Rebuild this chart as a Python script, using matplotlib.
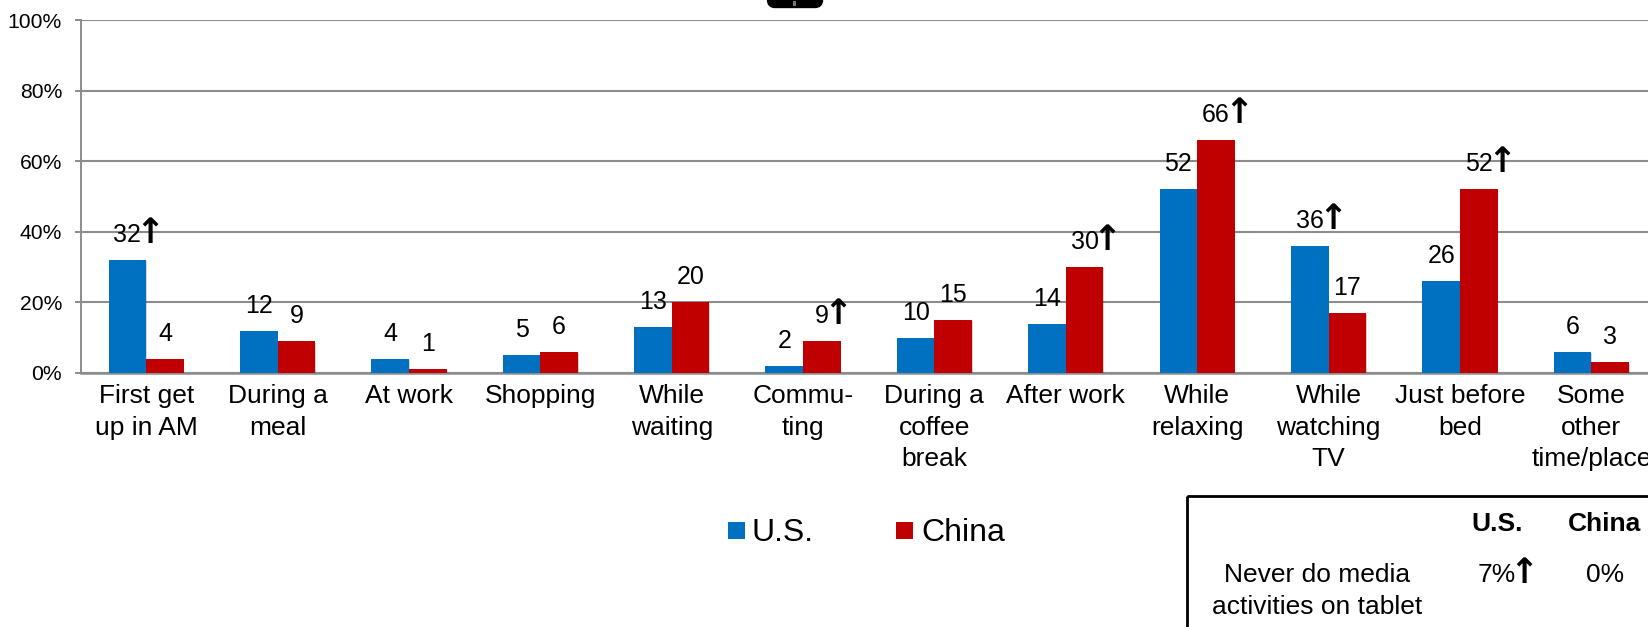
import matplotlib
matplotlib.use('Agg')
import numpy as np
import matplotlib.pyplot as plt
import matplotlib.patheffects as pe
from matplotlib.patches import FancyBboxPatch, Rectangle

plt.rcParams['font.family'] = ['Liberation Sans', 'DejaVu Sans']

categories = ['First get\nup in AM', 'During a\nmeal', 'At work', 'Shopping', 'While\nwaiting',
              'Commu-\nting', 'During a\ncoffee\nbreak', 'After work', 'While\nrelaxing',
              'While\nwatching\nTV', 'Just before\nbed', 'Some\nother\ntime/place']
us = [32, 12, 4, 5, 13, 2, 10, 14, 52, 36, 26, 6]
china = [4, 9, 1, 6, 20, 9, 15, 30, 66, 17, 52, 3]
us_up = [1, 0, 0, 0, 0, 0, 0, 0, 0, 1, 0, 0]  # significantly higher than the other country
china_up = [0, 0, 0, 0, 0, 1, 0, 1, 1, 0, 1, 0]
yticks = [0, 20, 40, 60, 80, 100]

BLUE = '#0070C0'
RED = '#C00000'
GRID = '#8C8C8C'
W, H = 1648, 627

fig = plt.figure(figsize=(W / 100, H / 100), dpi=100)
# the last category runs slightly past the right edge of the figure
ax = fig.add_axes([80.5 / W, 1 - 373 / H, (1657 - 80.5) / W, 353 / H])

x = np.arange(len(categories))
bw = 0.286
shadow = [pe.SimplePatchShadow(offset=(0.5, -1), alpha=0.18), pe.Normal()]
bars_us = ax.bar(x - bw / 2, us, bw, color=BLUE, zorder=3, path_effects=shadow)
bars_cn = ax.bar(x + bw / 2, china, bw, color=RED, zorder=3, path_effects=shadow)

ax.set_xlim(-0.5, len(categories) - 0.5)
ax.set_ylim(0, 100)
ax.set_yticks(yticks)
ax.set_yticklabels(['%d%%' % t for t in yticks], fontsize=15.2)
ax.set_xticks(x)
ax.set_xticklabels(categories, fontsize=19, linespacing=1.4)
ax.tick_params(axis='x', length=0, pad=8)
ax.tick_params(axis='y', length=4.3, width=1.4, color=GRID, pad=9)
ax.grid(axis='y', color=GRID, linewidth=1.5, zorder=1)
ax.set_axisbelow(True)
for side in ['top', 'right']:
    ax.spines[side].set_visible(False)
ax.spines['left'].set_color(GRID)
ax.spines['left'].set_linewidth(1.4)
ax.spines['bottom'].set_color(GRID)
ax.spines['bottom'].set_linewidth(1.8)

# value labels, with an up arrow beside the flagged ones
for bars, vals, ups in [(bars_us, us, us_up), (bars_cn, china, china_up)]:
    for b, v, up in zip(bars, vals, ups):
        cx = b.get_x() + b.get_width() / 2
        ax.annotate(str(v), (cx, v), xytext=(0, 25), textcoords='offset pixels',
                    ha='center', va='center', fontsize=18, zorder=5, clip_on=False)
        if up:
            ax.annotate('\u2191', (cx, v), xytext=(6.6 * len(str(v)) + 9.5, 27), textcoords='offset pixels',
                        ha='center', va='center', fontsize=25, fontweight='bold', zorder=5,
                        family='DejaVu Sans')

# overlay in pixel coordinates for legend, inset box and the clipped device at the top
ov = fig.add_axes([0, 0, 1, 1], zorder=10)
ov.set_xlim(0, W)
ov.set_ylim(H, 0)
ov.axis('off')
ov.patch.set_alpha(0)

ov.add_patch(Rectangle((728, 522), 17, 17, color=BLUE, lw=0))
ov.text(752, 533, 'U.S.', fontsize=23, va='center', ha='left')
ov.add_patch(Rectangle((896, 522), 17, 17, color=RED, lw=0))
ov.text(921, 533, 'China', fontsize=23, va='center', ha='left')

ov.add_patch(Rectangle((1187, 496), 600, 300, fill=False, edgecolor='black', linewidth=2.0))
ov.text(1497, 524, 'U.S.', fontsize=19, fontweight='bold', ha='center', va='center')
ov.text(1605, 524, 'China', fontsize=19, fontweight='bold', ha='center', va='center')
ov.text(1317, 575, 'Never do media', fontsize=19, ha='center', va='center')
ov.text(1317, 607, 'activities on tablet', fontsize=19, ha='center', va='center')
ov.text(1497, 575, '7%', fontsize=19, ha='center', va='center')
ov.text(1524, 573, '\u2191', fontsize=25, fontweight='bold', ha='center', va='center', family='DejaVu Sans')
ov.text(1605, 575, '0%', fontsize=19, ha='center', va='center')

ov.add_patch(FancyBboxPatch((771, -10), 48, 14, boxstyle='round,pad=0,rounding_size=4',
                            facecolor='black', edgecolor='black', linewidth=6))
ov.add_patch(Rectangle((793, 1), 3, 5, color='#777777', lw=0))

fig.savefig('out.png', dpi=100)
